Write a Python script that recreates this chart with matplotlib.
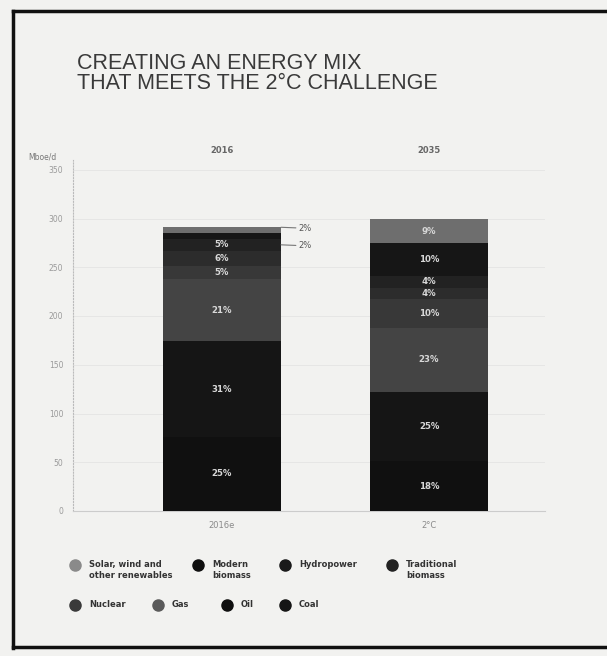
import matplotlib
matplotlib.use('Agg')
from matplotlib import pyplot as plt
from matplotlib.lines import Line2D

# data (Mboe/d), stacked bottom -> top
scenarios = ['2016e', '2°C']
headers = ['2016', '2035']
series = ['Coal', 'Oil', 'Gas', 'Nuclear', 'Traditional\nbiomass',
          'Hydropower', 'Modern\nbiomass', 'Solar, wind and\nother renewables']
coal = [76, 51]
oil = [98, 71]
gas = [64, 66]
nuclear = [13, 29]
trad_biomass = [16, 12]
hydro = [12, 12]
modern_biomass = [6, 34]
solar = [6, 24]
labels_2016 = ['25%', '31%', '21%', '5%', '6%', '5%', '2%', '2%']
labels_2035 = ['18%', '25%', '23%', '10%', '4%', '4%', '10%', '9%']
yticks = [0, 50, 100, 150, 200, 250, 300, 350]

values = [coal, oil, gas, nuclear, trad_biomass, hydro, modern_biomass, solar]
colors = ['#101010', '#151515', '#444444', '#383838', '#2c2c2c',
          '#222222', '#161616', '#6e6e6e']
bg = '#f2f2f0'

W, H = 607, 656
fig = plt.figure(figsize=(W / 100, H / 100), dpi=100, facecolor=bg)

# scanned frame
for xs, ys in [([13, 13], [11, 648]), ([13, W], [11, 11]), ([13, W], [647, 647])]:
    fig.add_artist(Line2D([x / W for x in xs], [1 - y / H for y in ys],
                          color='#111111', lw=2.5, transform=fig.transFigure))

fig.text(77 / W, 1 - 53 / H, 'CREATING AN ENERGY MIX\nTHAT MEETS THE 2°C CHALLENGE',
         family='Liberation Sans', fontsize=15.5, color='#3a3a3a', va='top',
         linespacing=0.95)

ax = fig.add_axes([73 / W, 1 - 511 / H, (545 - 73) / W, (511 - 160) / H])
ax.set_facecolor(bg)
x = [0, 1]
bottom = [0, 0]
bw = 0.57
for vals, c in zip(values, colors):
    ax.bar(x, vals, bw, bottom=bottom, color=c, edgecolor='none', zorder=3)
    bottom = [b + v for b, v in zip(bottom, vals)]

# in-bar percentage labels
tops = [0, 0]
for i, vals in enumerate(values):
    for j in range(2):
        lab = [labels_2016, labels_2035][j][i]
        mid = tops[j] + vals[j] / 2
        tops[j] += vals[j]
        if j == 0 and i >= 6:
            continue
        ax.text(x[j], mid, lab, ha='center', va='center', fontsize=6.2,
                fontweight='bold', color='#d8d8d8', zorder=4)

# small 2016 slices with leader lines
tot16 = sum(v[0] for v in values)
for lab, ytip, ytxt in [(labels_2016[7], tot16, tot16 - 1), (labels_2016[6], tot16 - 18, tot16 - 19)]:
    ax.annotate(lab, xy=(bw / 2, ytip), xytext=(0.37, ytxt), fontsize=6,
                color='#555555', va='center', ha='left',
                arrowprops=dict(arrowstyle='-', color='#777777', lw=0.8,
                                shrinkA=0, shrinkB=0))

ax.set_xlim(-0.72, 1.56)
ax.set_ylim(0, 360)
ax.set_yticks(yticks)
ax.set_yticklabels([str(t) for t in yticks], fontsize=5.5, color='#9a9a9a')
ax.set_xticks(x)
ax.set_xticklabels(scenarios, fontsize=6, color='#8a8a8a')
ax.tick_params(length=0, pad=7)
ax.grid(axis='y', color='#e4e4e4', lw=0.6, zorder=0)
for s in ['top', 'right']:
    ax.spines[s].set_visible(False)
ax.spines['left'].set_color('#bbbbbb')
ax.spines['left'].set_linestyle(':')
ax.spines['left'].set_linewidth(0.8)
ax.spines['bottom'].set_color('#cccccc')
ax.spines['bottom'].set_linewidth(0.8)

for xi, h in zip(x, headers):
    ax.text(xi, 1.015, h, transform=ax.get_xaxis_transform(), ha='center',
            va='bottom', fontsize=6, color='#666666', fontweight='bold')
fig.text(28 / W, 1 - 157 / H, 'Mboe/d', fontsize=5.5, color='#777777', va='center')

# legend
leg_pos = [(75, 565), (198, 565), (285, 565), (392, 565),
           (75, 605), (158, 605), (227, 605), (285, 605)]
leg_order = [7, 6, 5, 4, 3, 2, 1, 0]
leg_colors = ['#8a8a8a', '#0f0f0f', '#1a1a1a', '#222222',
              '#3a3a3a', '#5a5a5a', '#0f0f0f', '#151515']
for (px, py), k, lc in zip(leg_pos, leg_order, leg_colors):
    fig.add_artist(Line2D([px / W], [1 - py / H], marker='o', markersize=8,
                          color=lc, transform=fig.transFigure))
    fig.text((px + 14) / W, 1 - (py - 5) / H, series[k], fontsize=6,
             fontweight='bold', color='#333333', va='top', linespacing=1.25)

fig.savefig('out.png', dpi=100, facecolor=bg)
